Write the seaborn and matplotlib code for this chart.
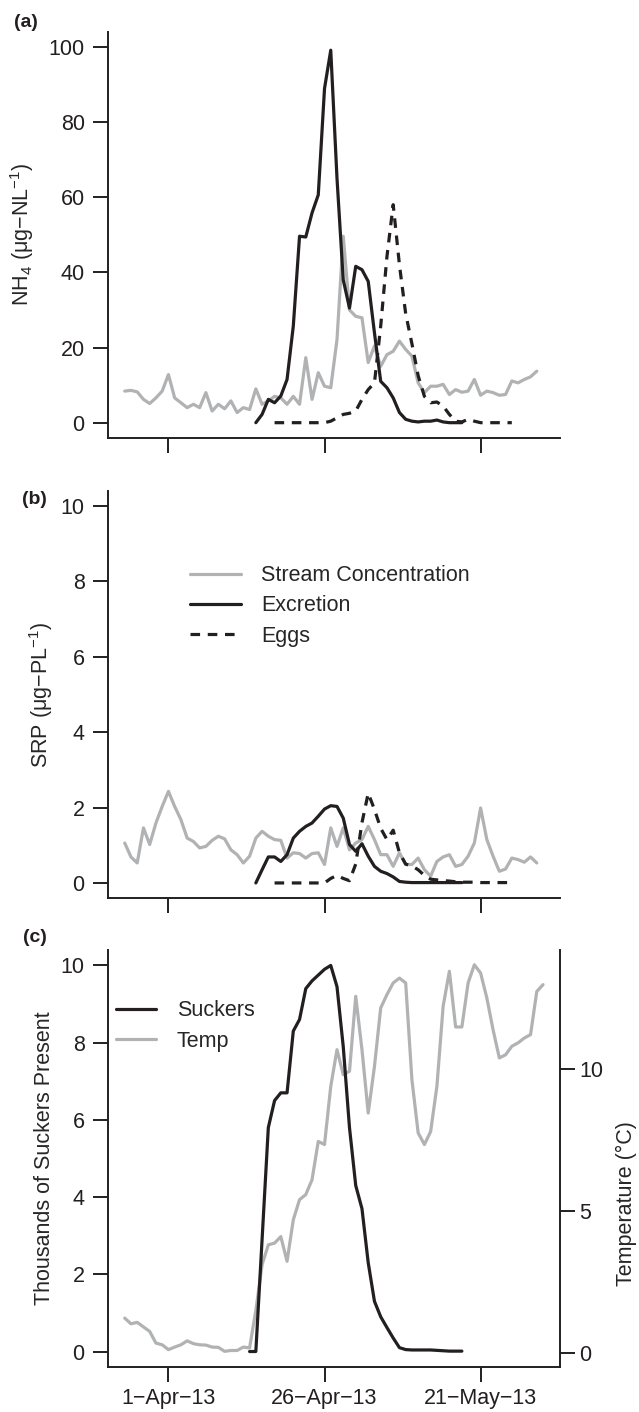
import pandas as pd
import numpy as np
import seaborn as sns
import matplotlib.pyplot as plt

sns.set_style('ticks')
plt.rcParams['font.family'] = ['Liberation Sans', 'DejaVu Sans']
plt.rcParams['mathtext.fontset'] = 'custom'
plt.rcParams['mathtext.rm'] = 'Liberation Sans'
plt.rcParams['mathtext.it'] = 'Liberation Sans:italic'

# daily series, first date of each series given separately
stream_start = '2013-03-25'
excretion_start = '2013-04-15'
eggs_start = '2013-04-18'
suckers_start = '2013-04-14'
temp_start = '2013-03-25'

nh4_stream = [8.4, 8.6, 8.2, 6.2, 5.1, 6.6, 8.4,
              12.8, 6.6, 5.3, 4.0, 4.9, 4.0, 8.0, 3.1, 4.9, 3.7,
              5.8, 2.7, 4.0, 3.5, 9.0, 4.9, 5.8, 7.0, 6.6, 4.9,
              7.0, 4.9, 17.3, 6.2, 13.3, 9.7, 9.3, 22.1, 49.6, 30.0,
              28.3, 27.9, 16.0, 20.4, 15.0, 18.1, 19.0, 21.7, 19.5, 17.7,
              10.6, 8.0, 9.7, 9.7, 10.2, 7.5, 8.8, 8.1, 8.4, 11.5,
              7.3, 8.4, 8.0, 7.3, 7.5, 11.1, 10.6, 11.5, 12.2, 13.7]
nh4_excretion = [0, 2.2, 6.2, 5.3, 7.1, 11.5, 25.7, 49.6, 49.4, 55.8,
                 60.6, 88.9, 99.1, 65.0, 38.0, 30.5, 41.6, 40.7, 37.6, 23.9,
                 11.0, 9.3, 6.6, 2.7, 0.9, 0.4, 0.2, 0.4, 0.4, 0.7,
                 0.2, 0, 0, 0]
nh4_eggs = [0, 0, 0, 0, 0, 0, 0, 0, 0,
            0.4, 1.3, 2.2, 2.5, 3.1, 6.2, 8.8, 10.6, 25.7, 44.2,
            58.0, 42.0, 29.0, 21.0, 12.5, 7.0, 5.3, 5.5, 4.4, 2.2,
            0.4, 0.2, 0.9, 0.4, 0, 0, 0, 0, 0, 0]

srp_stream = [1.06, 0.69, 0.53, 1.46, 1.02, 1.59, 2.03,
              2.43, 2.03, 1.68, 1.19, 1.10, 0.93, 0.97, 1.13, 1.24, 1.17,
              0.88, 0.75, 0.53, 0.71, 1.19, 1.37, 1.24, 1.15, 1.13, 0.66,
              0.80, 0.78, 0.66, 0.78, 0.80, 0.49, 1.46, 0.97, 1.46, 0.88,
              1.06, 1.15, 1.50, 1.15, 0.75, 0.75, 0.44, 0.80, 0.49, 0.49,
              0.66, 0.35, 0.18, 0.57, 0.69, 0.75, 0.44, 0.49, 0.71, 1.06,
              1.99, 1.15, 0.71, 0.31, 0.37, 0.66, 0.62, 0.55, 0.69, 0.53]
srp_excretion = [0, 0.35, 0.69, 0.69, 0.57, 0.75, 1.19, 1.37, 1.50, 1.59,
                 1.77, 1.96, 2.05, 2.03, 1.72, 1.02, 0.84, 1.04, 0.71, 0.44,
                 0.31, 0.25, 0.16, 0.04, 0.02, 0.01, 0.01, 0.01, 0.01, 0.01,
                 0.01, 0.01, 0.01, 0.01]
srp_eggs = [0, 0, 0, 0, 0, 0, 0, 0, 0,
            0.12, 0.20, 0.12, 0.06, 0.5, 1.6, 2.38, 1.95, 1.45, 1.15,
            1.4, 0.8, 0.5, 0.45, 0.35, 0.2, 0.1, 0.08, 0.06, 0.05,
            0.03, 0.02, 0.02, 0.02, 0.01, 0.01, 0.01, 0.01, 0.01, 0.01]

suckers = [0, 0, 2.9, 5.8, 6.5, 6.7, 6.7, 8.3, 8.6, 9.4,
           9.6, 9.75, 9.9, 10.0, 9.45, 7.9, 5.8, 4.3, 3.7, 2.3,
           1.3, 0.9, 0.62, 0.35, 0.1, 0.05, 0.04, 0.04, 0.04, 0.04,
           0.03, 0.02, 0.01, 0.01, 0.01]
temp = [1.23, 1.03, 1.08, 0.92, 0.76, 0.35, 0.29,
        0.12, 0.21, 0.29, 0.43, 0.33, 0.29, 0.28, 0.21, 0.20, 0.06,
        0.09, 0.09, 0.21, 0.18, 1.5, 3.11, 3.81, 3.87, 4.10, 3.23,
        4.69, 5.40, 5.58, 6.10, 7.45, 7.34, 9.39, 10.68, 9.80, 9.92,
        12.56, 10.68, 8.45, 10.09, 12.15, 12.62, 13.03, 13.20, 13.03, 9.62,
        7.75, 7.34, 7.80, 9.39, 12.21, 13.44, 11.48, 11.48, 13.03, 13.67,
        13.38, 12.50, 11.38, 10.39, 10.50, 10.80, 10.92, 11.09, 11.21, 12.73, 12.97]

tick_dates = pd.to_datetime(['2013-04-01', '2013-04-26', '2013-05-21'])
tick_labels = ['1\u2212Apr\u221213', '26\u2212Apr\u221213', '21\u2212May\u221213']

BLACK = '#231f20'
GRAY = '#b1b2b4'
LW = 2.3
FS = 15.5
order = ['Stream Concentration', 'Excretion', 'Eggs']
pal = {'Stream Concentration': GRAY, 'Excretion': BLACK, 'Eggs': BLACK}
dash = {'Stream Concentration': '', 'Excretion': '', 'Eggs': (3, 2.4)}


def series(values, first, name):
    return pd.DataFrame({'date': pd.date_range(first, periods=len(values), freq='D'),
                         'value': values, 'series': name})


def style_axis(ax):
    ax.spines[['top', 'right']].set_visible(False)
    for s in ax.spines.values():
        s.set_linewidth(1.4)
        s.set_color(BLACK)
    ax.tick_params(direction='out', length=10.8, width=1.4, colors=BLACK, labelsize=FS)
    ax.tick_params(axis='y', pad=6)
    ax.tick_params(axis='x', pad=4)
    ax.set_xticks(tick_dates)
    day0 = pd.Timestamp('2013-04-01')
    ax.set_xlim(day0 - pd.Timedelta(days=9.68), day0 + pd.Timedelta(days=62.68))
    ax.set_xlabel('')


fig = plt.figure(figsize=(6.39, 14.12), dpi=100)
ax_a = fig.add_axes([0.169, 0.690, 0.707, 0.2875])
ax_b = fig.add_axes([0.169, 0.364, 0.707, 0.2883])
ax_c = fig.add_axes([0.169, 0.0319, 0.707, 0.2953])

# (a) NH4
df_a = pd.concat([series(nh4_stream, stream_start, order[0]),
                  series(nh4_excretion, excretion_start, order[1]),
                  series(nh4_eggs, eggs_start, order[2])])
sns.lineplot(data=df_a, x='date', y='value', hue='series', style='series',
             hue_order=order, style_order=order, palette=pal, dashes=dash,
             estimator=None, lw=LW, legend=False, ax=ax_a)
style_axis(ax_a)
ax_a.set_ylim(-4, 104)
ax_a.set_yticks([0, 20, 40, 60, 80, 100])
ax_a.set_xticklabels([])
ax_a.set_ylabel('NH$_4$ (\u03bcg\u2212NL$^{-1}$)', fontsize=FS)
ax_a.yaxis.set_label_coords(-0.16, 0.5)

# (b) SRP
df_b = pd.concat([series(srp_stream, stream_start, order[0]),
                  series(srp_excretion, excretion_start, order[1]),
                  series(srp_eggs, eggs_start, order[2])])
sns.lineplot(data=df_b, x='date', y='value', hue='series', style='series',
             hue_order=order, style_order=order, palette=pal, dashes=dash,
             estimator=None, lw=LW, legend=False, ax=ax_b)
style_axis(ax_b)
ax_b.set_ylim(-0.4, 10.4)
ax_b.set_yticks(range(0, 11, 2))
ax_b.set_xticklabels([])
ax_b.set_ylabel('SRP (\u03bcg\u2212PL$^{-1}$)', fontsize=FS)
ax_b.yaxis.set_label_coords(-0.118, 0.5)
ax_b.legend(ax_b.lines[:3], order, loc='upper left', bbox_to_anchor=(0.181, 0.818),
            frameon=False, fontsize=FS, handlelength=2.4, handletextpad=0.9,
            labelspacing=0.43, borderpad=0, borderaxespad=0)

# (c) suckers and temperature
df_s = series(suckers, suckers_start, 'Suckers')
df_t = series(temp, temp_start, 'Temp')
ax_t = ax_c.twinx()
sns.lineplot(data=df_t, x='date', y='value', color=GRAY, lw=LW, estimator=None, ax=ax_t)
sns.lineplot(data=df_s, x='date', y='value', color=BLACK, lw=LW, estimator=None, ax=ax_c)
ax_c.set_zorder(ax_t.get_zorder() + 1)
ax_c.patch.set_visible(False)
style_axis(ax_c)
ax_c.set_ylim(-0.4, 10.4)
ax_c.set_yticks(range(0, 11, 2))
ax_c.set_xticklabels(tick_labels)
ax_c.set_ylabel('Thousands of Suckers Present', fontsize=FS)
ax_c.yaxis.set_label_coords(-0.118, 0.5)

ax_t.spines[['top', 'left', 'bottom']].set_visible(False)
ax_t.spines['right'].set_linewidth(1.4)
ax_t.spines['right'].set_color(BLACK)
ax_t.tick_params(direction='out', length=10.8, width=1.4, colors=BLACK, labelsize=FS, pad=3)
ax_t.set_ylim(-0.49, 14.19)
ax_t.set_yticks([0, 5, 10])
ax_t.set_ylabel('Temperature (\u00b0C)', fontsize=FS)
ax_t.yaxis.set_label_coords(1.124, 0.391)
ax_t.set_xlabel('')

ax_c.legend([ax_c.lines[0], ax_t.lines[0]], ['Suckers', 'Temp'], loc='upper left',
            bbox_to_anchor=(0.018, 0.879), frameon=False, fontsize=FS,
            handlelength=1.86, handletextpad=0.95, labelspacing=0.43,
            borderpad=0, borderaxespad=0)

for lab, x, y in [('(a)', 0.040, 0.984), ('(b)', 0.054, 0.646), ('(c)', 0.054, 0.336)]:
    fig.text(x, y, lab, fontsize=14, fontweight='bold', ha='center', va='center', color=BLACK)

fig.savefig('out.png', dpi=100)
